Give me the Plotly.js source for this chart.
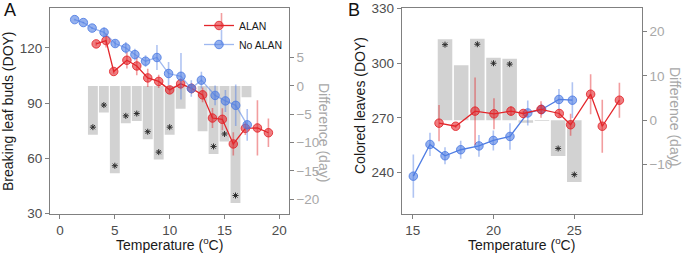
<!DOCTYPE html>
<html>
<head>
<meta charset="utf-8">
<script src="https://cdn.plot.ly/plotly-3.0.1.min.js"></script>
<style>
  html, body { margin: 0; padding: 0; background: #fff; }
  #chart { width: 685px; height: 253px; }
</style>
</head>
<body>
<div id="chart"></div>
<script>
// ---- Panel A: breaking leaf buds ----
const tempA_alan   = [3.3, 4.2, 4.9, 6.1, 7.0, 8.0, 9.0, 10.0, 11.0, 12.0, 13.0, 13.9, 14.8, 15.8, 16.9, 18.0, 19.0];
const doyA_alan    = [122.2, 124.0, 107.2, 113.3, 110.2, 103.7, 101.8, 97.2, 100.5, 98.0, 94.5, 81.9, 81.2, 67.8, 76.3, 76.5, 73.9];
const errA_alan    = [1.0, 3.8, 1.2, 4.5, 5.0, 5.0, 3.6, 2.0, 3.0, 3.0, 4.0, 5.4, 6.0, 6.3, 3.6, 15.0, 7.7];

const tempA_noalan = [1.34, 2.13, 2.93, 4.02, 5.03, 6.0, 6.83, 7.8, 8.84, 9.9, 11.03, 11.97, 12.89, 14.14, 15.08, 16.02, 17.07];
const doyA_noalan  = [135.4, 133.8, 130.8, 128.5, 122.4, 120.0, 116.4, 112.8, 114.8, 106.1, 104.6, 98.0, 102.5, 94.2, 91.2, 88.8, 78.2];
const errA_noalan  = [0.5, 0.5, 0.5, 2.7, 1.8, 3.2, 3.2, 3.2, 6.8, 6.3, 12.6, 4.5, 4.5, 5.4, 6.0, 11.3, 8.6];

const binA  = [3, 4, 5, 6, 7, 8, 9, 10, 11, 13, 14, 15, 16, 17];
const diffA = [-8.6, -4.7, -15.4, -6.6, -6.2, -9.4, -13.0, -8.6, -4.05, -8.0, -12.0, -9.8, -20.65, -2.0];
const sigA  = [true, true, true, true, true, true, true, true, false, false, true, true, true, false];

// ---- Panel B: colored leaves ----
const tempB_alan   = [16.63, 17.66, 18.86, 20.03, 21.08, 21.84, 22.94, 24.07, 24.77, 26.01, 26.73, 27.79];
const doyB_alan    = [267.1, 265.4, 273.7, 272.2, 273.7, 272.4, 274.6, 272.4, 266.2, 283.0, 265.4, 279.7];
const errB_alan    = [10.0, 1.0, 18.5, 8.5, 2.7, 1.5, 4.5, 2.2, 6.0, 11.0, 14.6, 9.6];

const tempB_noalan = [15.04, 16.07, 17.0, 17.97, 19.1, 19.99, 21.02, 22.12, 22.98, 24.05, 24.88];
const doyB_noalan  = [238.0, 255.4, 249.2, 252.5, 254.6, 257.6, 259.8, 272.7, 274.6, 280.1, 279.7];
const errB_noalan  = [11.9, 6.4, 4.6, 5.0, 6.0, 5.5, 7.3, 6.9, 3.2, 5.7, 9.8];

const binB  = [17, 18, 19, 20, 21, 22, 23, 24, 25];
const diffB = [18.3, 12.4, 18.4, 14.1, 13.9, -0.6, -0.2, -8.1, -14.0];
const sigB  = [true, false, true, true, true, false, false, true, true];

// ---- styling ----
const W = 685, H = 253;
const FONT = 'Liberation Sans, Arial, sans-serif';
const AXIS = '#808080', TICKTXT = '#4d4d4d', RIGHTTXT = '#a8a8a8', BARFILL = '#d2d2d2';
const STAR = '#2e2e2e';

const px = v => v / W;
const py = v => 1 - v / H;
const yDom = [py(213.5), py(8.2)];

const redRGB = [227, 38, 43], blueRGB = [79, 125, 227];
const rgba = (c, a) => `rgba(${c[0]},${c[1]},${c[2]},${a})`;

function pointTrace(x, y, err, xa, ya, c, name, lineAlpha, show) {
  return {
    type: 'scatter', mode: 'lines+markers', x, y, xaxis: xa, yaxis: ya,
    name, showlegend: show, legendgroup: name,
    line: { color: rgba(c, lineAlpha), width: 1.3 },
    marker: { size: 8.5, color: rgba(c, 0.6), line: { color: rgba(c, 0.85), width: 1 } },
    error_y: { type: 'data', array: err, visible: true, width: 0, thickness: 1.6, color: rgba(c, 0.45) },
    hoverinfo: 'x+y'
  };
}

function barTrace(x, y, xa, ya) {
  return {
    type: 'bar', x, y, xaxis: xa, yaxis: ya, width: 0.9,
    marker: { color: BARFILL, line: { width: 0 } },
    showlegend: false, hoverinfo: 'x+y'
  };
}

// significance stars just inside the free end of each bar
function starTrace(bins, diffs, sig, xa, ya, yRange, shiftNeg, shiftPos) {
  const daysPerPx = (yRange[1] - yRange[0]) / (213.5 - 8.2);
  const xs = [], ys = [];
  bins.forEach((b, i) => {
    if (!sig[i]) return;
    xs.push(b);
    ys.push(diffs[i] + (diffs[i] < 0 ? shiftNeg : -shiftPos) * daysPerPx);
  });
  return {
    type: 'scatter', mode: 'markers', x: xs, y: ys, xaxis: xa, yaxis: ya, showlegend: false,
    marker: { symbol: 'asterisk-open', size: 5, color: STAR, line: { color: STAR, width: 1 } },
    hoverinfo: 'skip'
  };
}

const rangeDiffA = [-22.5, 13.7], rangeDiffB = [-21.1, 25.3];

const traces = [
  barTrace(binA, diffA, 'x', 'y'),
  starTrace(binA, diffA, sigA, 'x', 'y', rangeDiffA, 7.5, 5),
  barTrace(binB, diffB, 'x2', 'y3'),
  starTrace(binB, diffB, sigB, 'x2', 'y3', rangeDiffB, 7.5, 5.5),
  pointTrace(tempA_alan, doyA_alan, errA_alan, 'x', 'y2', redRGB, 'ALAN', 1, true),
  pointTrace(tempA_noalan, doyA_noalan, errA_noalan, 'x', 'y2', blueRGB, 'No ALAN', 0.55, true),
  pointTrace(tempB_noalan, doyB_noalan, errB_noalan, 'x2', 'y4', blueRGB, 'No ALAN', 1, false),
  pointTrace(tempB_alan, doyB_alan, errB_alan, 'x2', 'y4', redRGB, 'ALAN', 1, false)
];

function label(text, x, y, opts) {
  return Object.assign({ text, x: px(x), y: py(y), xref: 'paper', yref: 'paper', showarrow: false,
    xanchor: 'center', yanchor: 'middle', font: { family: FONT, size: 14, color: '#1a1a1a' } }, opts || {});
}

const titles = [
  label('A', 10, 10.5, { font: { family: FONT, size: 18, color: '#111' } }),
  label('B', 353.5, 10.5, { font: { family: FONT, size: 18, color: '#111' } }),
  label('Breaking leaf buds (DOY)', 8, 111, { textangle: -90 }),
  label('Colored leaves (DOY)', 360, 106, { textangle: -90 }),
  label('Difference (day)', 324, 132, { textangle: 90, font: { family: FONT, size: 14, color: RIGHTTXT } }),
  label('Difference (day)', 675, 116, { textangle: 90, font: { family: FONT, size: 14, color: RIGHTTXT } }),
  label('Temperature (<sup>o</sup>C)', 169, 243.5),
  label('Temperature (<sup>o</sup>C)', 521.7, 243.5)
];

// vertical error-bar strokes crossing the legend symbols
const legendBars = [
  { type: 'line', xref: 'paper', yref: 'paper', x0: px(221.5), x1: px(221.5), y0: py(13), y1: py(27),
    line: { color: rgba(redRGB, 0.45), width: 1.6 } },
  { type: 'line', xref: 'paper', yref: 'paper', x0: px(221.5), x1: px(221.5), y0: py(30), y1: py(44),
    line: { color: rgba(blueRGB, 0.45), width: 1.6 } }
];

const common = {
  showgrid: false, zeroline: false, showline: true, linecolor: AXIS, linewidth: 1,
  ticks: 'outside', ticklen: 4, tickcolor: AXIS, tickwidth: 1,
  tickfont: { family: FONT, size: 13.5, color: TICKTXT }, fixedrange: true
};

const layout = {
  width: W, height: H,
  margin: { l: 0, r: 0, t: 0, b: 0 },
  paper_bgcolor: '#fff', plot_bgcolor: '#fff',
  font: { family: FONT },
  barmode: 'overlay',
  showlegend: true,
  legend: {
    x: px(199), y: py(11), xanchor: 'left', yanchor: 'top',
    bgcolor: 'rgba(0,0,0,0)', borderwidth: 0,
    font: { family: FONT, size: 10.5, color: '#1a1a1a' },
    itemclick: false, itemdoubleclick: false, traceorder: 'normal'
  },
  xaxis: Object.assign({}, common, { domain: [px(50), px(288.7)], range: [-0.91, 20.85], anchor: 'y',
    tickvals: [0, 5, 10, 15, 20], mirror: true }),
  yaxis: Object.assign({}, common, { domain: yDom, range: rangeDiffA, anchor: 'x', side: 'right',
    tickvals: [-20, -15, -10, -5, 0, 5], tickfont: { family: FONT, size: 13.5, color: RIGHTTXT } }),
  yaxis2: Object.assign({}, common, { overlaying: 'y', anchor: 'x', side: 'left', range: [30, 141.6],
    tickvals: [30, 60, 90, 120] }),
  xaxis2: Object.assign({}, common, { domain: [px(401.7), px(641.7)], range: [14.32, 29.17], anchor: 'y3',
    tickvals: [15, 20, 25], mirror: true }),
  yaxis3: Object.assign({}, common, { domain: yDom, range: rangeDiffB, anchor: 'x2', side: 'right',
    tickvals: [-10, 0, 10, 20], tickfont: { family: FONT, size: 13.5, color: RIGHTTXT } }),
  yaxis4: Object.assign({}, common, { overlaying: 'y3', anchor: 'x2', side: 'left', range: [217.5, 330.2],
    tickvals: [240, 270, 300, 330] }),
  annotations: titles,
  shapes: legendBars
};

Plotly.newPlot('chart', traces, layout, { displayModeBar: false, staticPlot: true });
</script>
</body>
</html>
